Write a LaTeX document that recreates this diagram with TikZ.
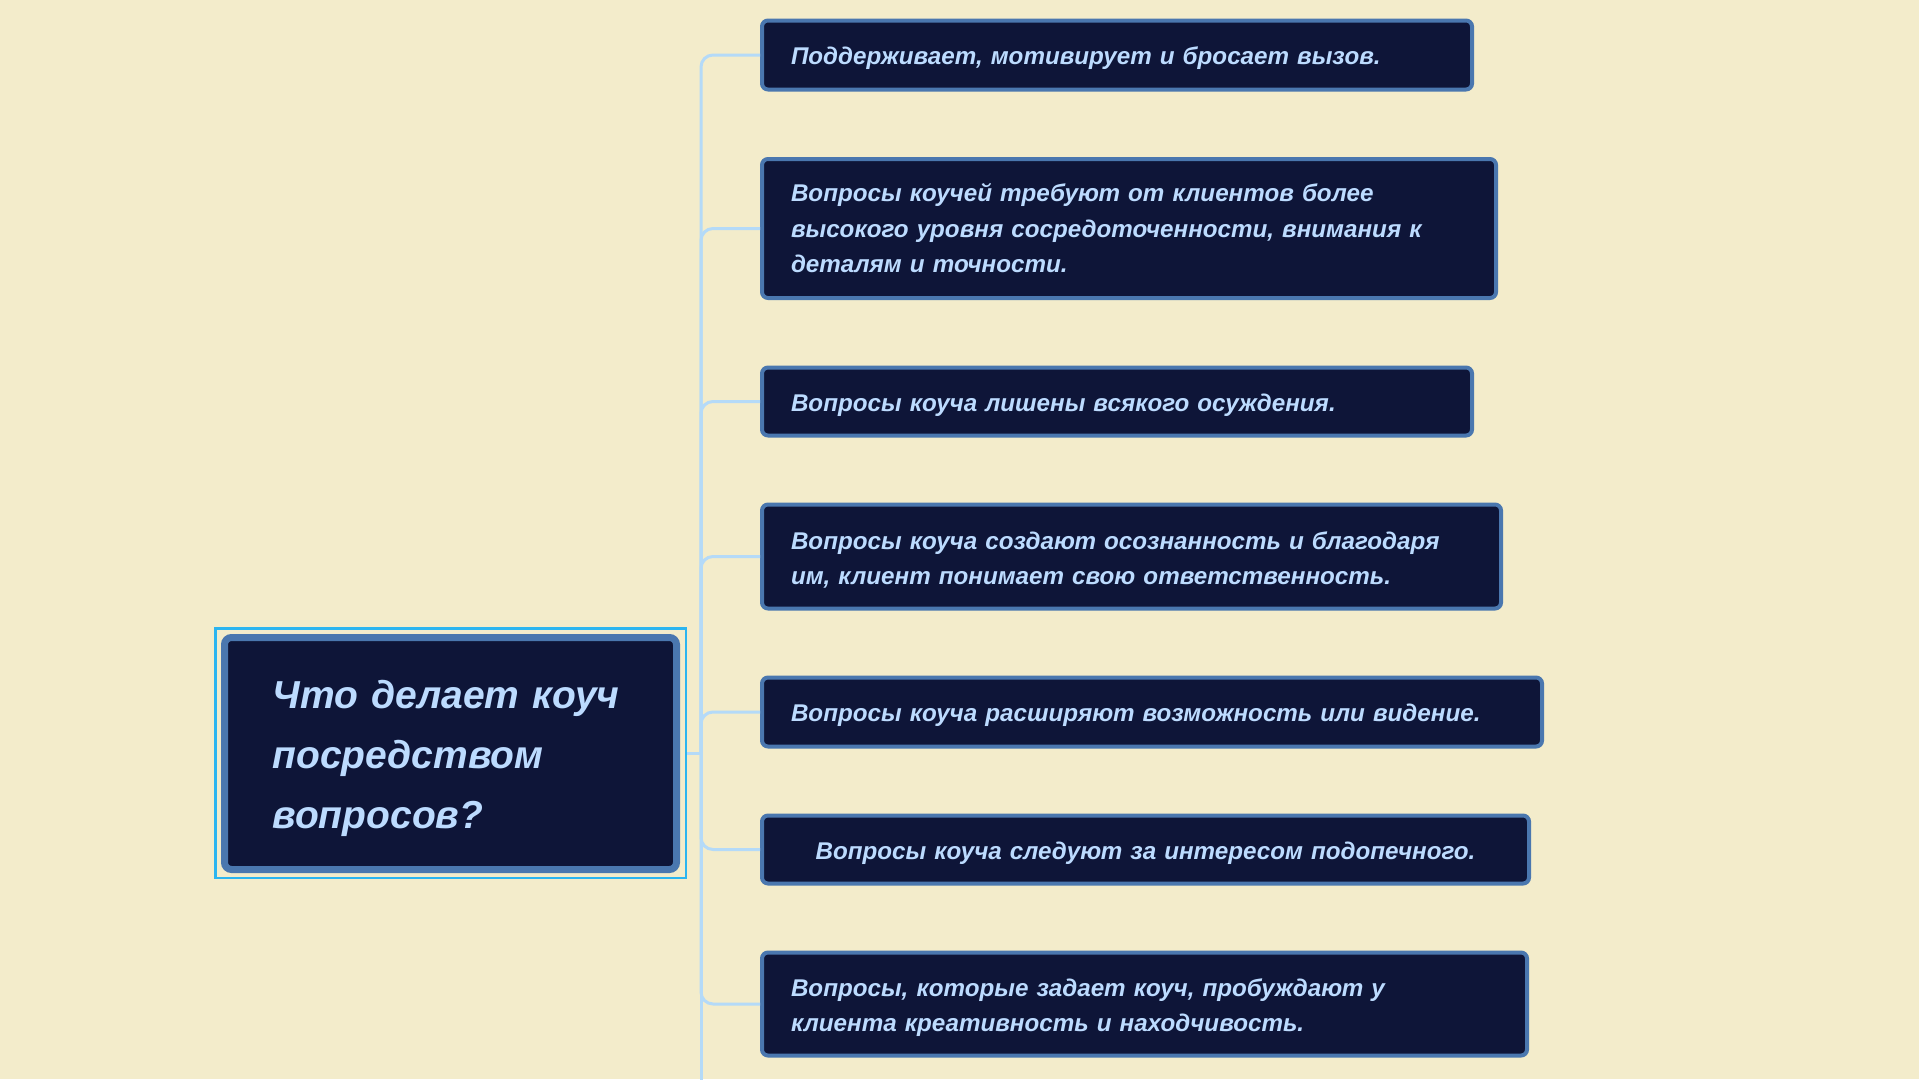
\documentclass[tikz,border=0pt]{standalone}
\usepackage{fontspec}
\setmainfont{Liberation Sans}
\definecolor{bgc}{HTML}{F3ECCB}
\definecolor{navy}{HTML}{0E1538}
\definecolor{bord}{HTML}{4A77AF}
\definecolor{txt}{HTML}{BCDBFF}
\definecolor{conn}{HTML}{B4DAF8}
\definecolor{selc}{HTML}{2BB5F0}
\newcommand\lowstrut{\rule{0pt}{25pt}}
\begin{document}
\begin{tikzpicture}[x=1pt,y=-1pt,
  item/.style={draw=bord, line width=4pt, fill=navy, rounded corners=6pt, text=txt,
    font=\fontsize{24.2}{35.5}\selectfont\bfseries\itshape, align=left, inner xsep=29pt, inner ysep=0pt, anchor=west},
  link/.style={draw=conn, line width=3pt, rounded corners=12pt}]
\fill[bgc] (0,0) rectangle (1919,1079);
\useasboundingbox (0,0) rectangle (1919,1079);
% root
\node[draw=selc, line width=2.5pt, minimum width=470.5pt, minimum height=249.5pt, inner sep=0pt] (sel) at (450.5,753) {};
\node[draw=bord, line width=7pt, fill=navy, rounded corners=7pt, text=txt,
  font=\fontsize{39}{60}\selectfont\bfseries\itshape, align=left,
  text width=356pt, inner xsep=48pt, minimum height=232pt] (root) at (450.5,753.5)
  {\rule{0pt}{38pt}Что делает коуч\\посредством\\вопросов?};
% items
\node[item, text width=652pt, minimum height=69pt] (b1) at (760,55) {\lowstrut Поддерживает, мотивирует и бросает вызов.};
\node[item, text width=676pt, minimum height=139pt] (b2) at (760,228.5) {Вопросы коучей требуют от клиентов более\\высокого уровня сосредоточенности, внимания к\\деталям и точности.};
\node[item, text width=652pt, minimum height=68pt] (b3) at (760,401.5) {\lowstrut Вопросы коуча лишены всякого осуждения.};
\node[item, text width=681pt, minimum height=104pt] (b4) at (760,556.5) {\lowstrut Вопросы коуча создают осознанность и благодаря\\им, клиент понимает свою ответственность.};
\node[item, text width=722pt, minimum height=69pt] (b5) at (760,712) {\lowstrut Вопросы коуча расширяют возможность или видение.};
\node[item, text width=709pt, minimum height=68pt, align=center] (b6) at (760,849.5) {\lowstrut Вопросы коуча следуют за интересом подопечного.};
\node[item, text width=707pt, minimum height=103pt] (b7) at (760,1004) {\lowstrut Вопросы, которые задает коуч, пробуждают у\\клиента креативность и находчивость.};
% connectors
\coordinate (hub) at (701,753);
\coordinate (tail) at (701,1082);
\draw[link, rounded corners=0pt] (sel.east) -- (hub);
\draw[link, rounded corners=0pt] (hub) -- (tail);
\foreach \b in {b1,b2,b3,b4,b5,b6,b7}{
  \draw[link] (hub) |- (\b.west);
}
\end{tikzpicture}
\end{document}
